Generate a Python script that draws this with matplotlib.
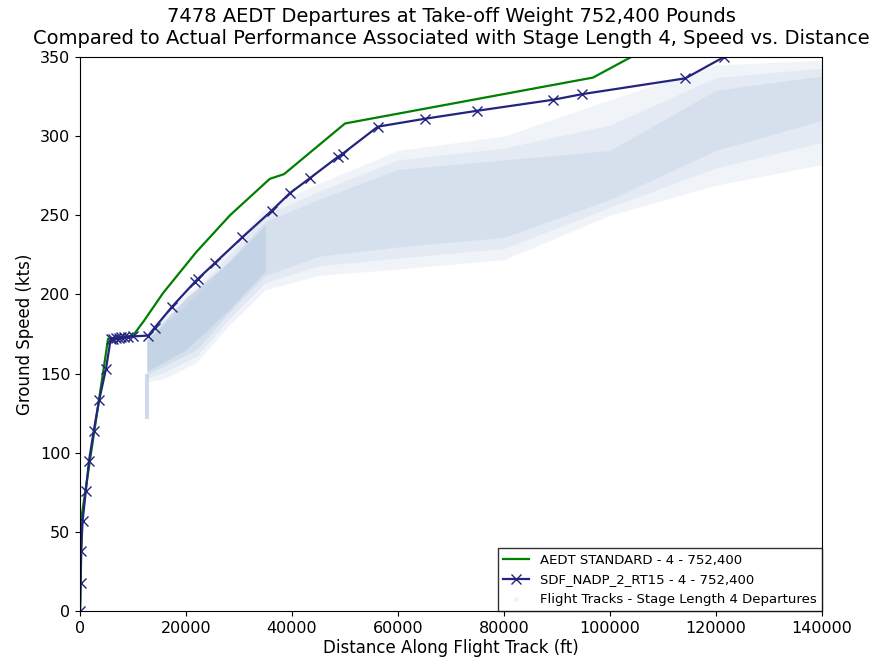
import matplotlib
matplotlib.use('Agg')
import matplotlib.pyplot as plt

# AEDT standard profile (distance ft, ground speed kts)
aedt_dist = [0, 400, 5300, 10000, 12000, 15700, 22000, 28300, 35800, 38500,
             50000, 96800, 104000, 110000]
aedt_speed = [0, 62, 172, 174, 183, 201, 227, 250, 273, 276,
              308, 337, 350, 362]

# SDF_NADP_2_RT15 profile
nadp_dist = [0, 100, 200, 500, 1100, 1700, 2600, 3600, 4900, 5800,
             6300, 6800, 7300, 7800, 8300, 9000, 10000, 12900, 14100,
             17300, 21700, 22300, 25500, 30600, 36200, 39600, 43400,
             48700, 49600, 56200, 65100, 74900, 89300, 94700, 114200,
             121500, 125000]
nadp_speed = [0, 18, 38, 57, 76, 95, 114, 133, 153, 172,
              172, 172.5, 172.5, 173, 173, 173, 173.5, 174, 179,
              192, 208, 210, 220, 236, 253, 264, 273.5,
              287, 289, 306, 311, 316, 323, 326.5, 336.5,
              350, 356]

# flight track cloud, read as envelope (outer) and core
track_dist = [12600, 13000, 16000, 22000, 28000, 35000, 45000, 60000,
              80000, 100000, 120000, 140000]
track_low = [146, 145, 147, 157, 180, 203, 212, 216, 222, 250, 269, 282]
track_high = [176, 178, 188, 206, 228, 255, 270, 291, 300, 323, 345, 348]
core_low = [150, 150, 155, 165, 188, 212, 224, 230, 236, 260, 291, 310]
core_high = [172, 173, 181, 200, 221, 246, 260, 279, 285, 291, 329, 338]
# most saturated part near the start of the tracks
dense_dist = [12600, 13000, 20000, 28000, 35000]
dense_low = [152, 152, 165, 190, 215]
dense_high = [170, 172, 198, 220, 244]
# thin low-speed spike at start of tracks
spike_dist = [12300, 13000]
spike_low = [121, 121]
spike_high = [150, 150]

fig = plt.figure(figsize=(8.85, 6.65), dpi=100)
ax = fig.add_axes([0.0904, 0.0812, 0.8384, 0.8331])

cloud = '#b0c4de'
mid_low = [(a + b) / 2 for a, b in zip(track_low, core_low)]
mid_high = [(a + b) / 2 for a, b in zip(track_high, core_high)]
ax.fill_between(track_dist, track_low, track_high, color=cloud,
                alpha=0.18, linewidth=0)
ax.fill_between(track_dist, mid_low, mid_high, color=cloud,
                alpha=0.2, linewidth=0)
ax.fill_between(track_dist, core_low, core_high, color=cloud,
                alpha=0.25, linewidth=0)
ax.fill_between(dense_dist, dense_low, dense_high, color=cloud,
                alpha=0.45, linewidth=0)
ax.fill_between(spike_dist, spike_low, spike_high, color=cloud,
                alpha=0.6, linewidth=0)

ax.plot(aedt_dist, aedt_speed, color='green', linewidth=1.6,
        label='AEDT STANDARD - 4 - 752,400')
ax.plot(nadp_dist, nadp_speed, color='#24247e', linewidth=1.6, marker='x',
        markersize=7, label='SDF_NADP_2_RT15 - 4 - 752,400')
ax.scatter([], [], s=6, color=cloud, alpha=0.15,
           label='Flight Tracks - Stage Length 4 Departures')

ax.set_xlim(0, 140000)
ax.set_ylim(0, 350)
ax.tick_params(labelsize=11.5)
ax.set_xlabel('Distance Along Flight Track (ft)', fontsize=12, labelpad=2)
ax.set_ylabel('Ground Speed (kts)', fontsize=12)
ax.set_title('7478 AEDT Departures at Take-off Weight 752,400 Pounds\n'
             'Compared to Actual Performance Associated with Stage Length 4, Speed vs. Distance',
             fontsize=14, pad=9)
ax.legend(loc='lower right', fontsize=9.5, borderaxespad=0, frameon=True,
          fancybox=False, edgecolor='black')

fig.savefig('out.png', dpi=100)
